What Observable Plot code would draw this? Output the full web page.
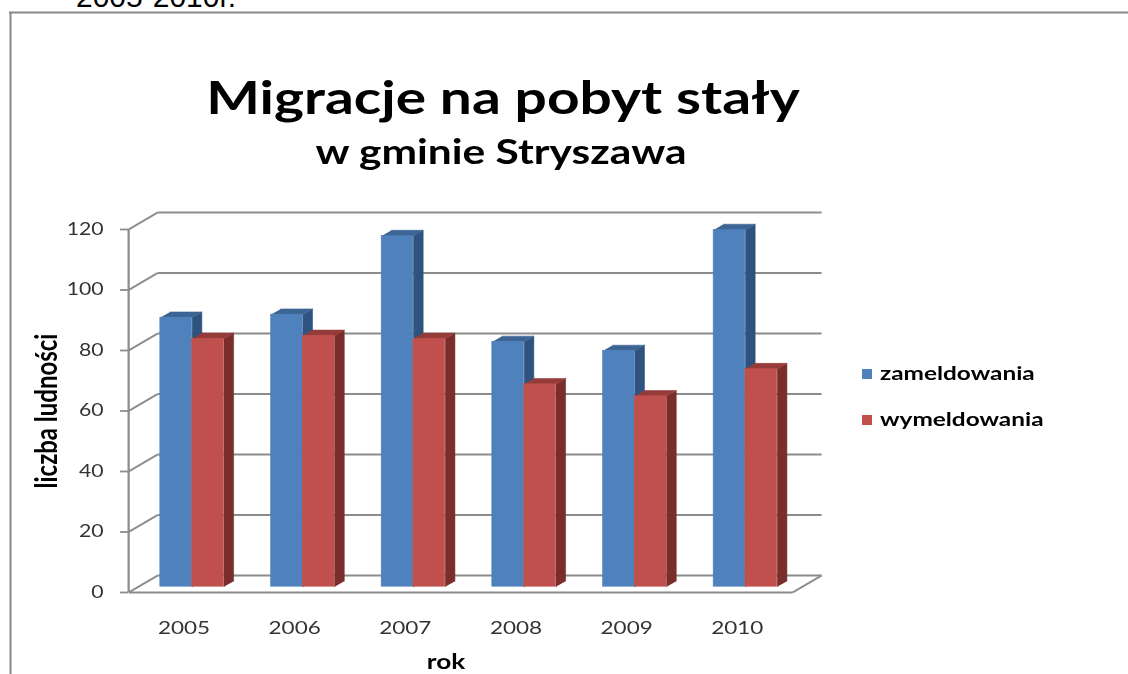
<!DOCTYPE html>
<html><head><meta charset="utf-8">
<script src="https://cdn.jsdelivr.net/npm/d3@7"></script>
<script src="https://cdn.jsdelivr.net/npm/@observablehq/plot@0.6"></script>
<style>
html,body{margin:0;background:#fff;width:1128px;height:674px;overflow:hidden}
#page{position:relative;width:1128px;height:674px;overflow:hidden}
#doc{position:absolute;left:0;top:0}
#wrap{position:absolute;left:0;top:0;width:902.4px;height:674px;transform:scaleX(1.25);transform-origin:0 0}
#wrap svg{position:absolute;left:0;top:0}
</style></head>
<body><div id="page"><svg id="doc" width="1128" height="674"></svg><div id="wrap"></div></div>
<script>
// ---- data ----
const years = [2005, 2006, 2007, 2008, 2009, 2010];
const zameldowania = [89, 90, 116, 81, 78, 118];
const wymeldowania = [82, 83, 82, 67, 63, 72];
const yTicks = [0, 20, 40, 60, 80, 100, 120];
const seriesNames = ["zameldowania", "wymeldowania"];
const titleText = "Migracje na pobyt stały";
const subtitleText = "w gminie Stryszawa";
const yLabel = "liczba ludności";
const xLabel = "rok";
const docText = "2005-2010r.";

// ---- styling / geometry constants ----
const K = 1.25;             // horizontal stretch of the whole chart
const W = 1128 / K, H = 674;
const DX = 0.262, DY = 5.62; // 3D depth in data units
const barStart = 0.20, barW = 0.287;
const colors = {
  front: ["#4F81BD", "#C0504D"],
  top: ["#3C6596", "#953C3A"],
  side: ["#30527E", "#7A2E2C"]
};
const gridColor = "#8c8c8c";

function faces(values, s) {
  const fronts = [], sides = [], tops = [];
  const ddx = DX / 3, ddy = DY / 3;
  values.forEach((v, i) => {
    const x1 = i + barStart + s * barW + ddx, x2 = x1 + barW;
    const y0 = ddy, y1 = v + ddy;
    fronts.push({x1, x2, y1: y0, y2: y1});
    sides.push({id: i, x: x2, y: y0}, {id: i, x: x2, y: y1}, {id: i, x: x2 + ddx, y: y1 + ddy}, {id: i, x: x2 + ddx, y: y0 + ddy});
    tops.push({id: i, x: x1, y: y1}, {id: i, x: x2, y: y1}, {id: i, x: x2 + ddx, y: y1 + ddy}, {id: i, x: x1 + ddx, y: y1 + ddy});
  });
  return {fronts, sides, tops};
}

const grid = yTicks.map(t => ({x1: DX, y1: t + DY, x2: years.length + DX, y2: t + DY}));
const conn = yTicks.map(t => ({x1: 0, y1: t, x2: DX, y2: t + DY}));
const floorFront = [
  {x1: 0, y1: 0, x2: years.length, y2: 0},
  {x1: years.length, y1: 0, x2: years.length + DX, y2: DY}
];

const barMarks = [];
[zameldowania, wymeldowania].forEach((vals, s) => {
  const f = faces(vals, s);
  barMarks.push(
    Plot.line(f.sides, {x: "x", y: "y", z: "id", fill: colors.side[s], stroke: colors.side[s], strokeWidth: 0.5, curve: "linear"}),
    Plot.line(f.tops, {x: "x", y: "y", z: "id", fill: colors.top[s], stroke: colors.top[s], strokeWidth: 0.5, curve: "linear"}),
    Plot.rect(f.fronts, {x1: "x1", x2: "x2", y1: "y1", y2: "y2", fill: colors.front[s], stroke: colors.front[s], strokeWidth: 0.4})
  );
});

const xRight = 792 / K;
const chart = Plot.plot({
  width: W, height: H,
  marginLeft: 128 / K, marginRight: W - xRight,
  marginTop: 229, marginBottom: H - 592,
  x: {domain: [0, years.length], axis: null},
  y: {domain: [0, 120], axis: null},
  style: {background: "transparent", fontFamily: "Lato", overflow: "visible"},
  marks: [
    Plot.link(grid, {x1: "x1", y1: "y1", x2: "x2", y2: "y2", stroke: gridColor, strokeWidth: 1.8}),
    Plot.link(conn, {x1: "x1", y1: "y1", x2: "x2", y2: "y2", stroke: gridColor, strokeWidth: 1.8}),
    Plot.link(floorFront, {x1: "x1", y1: "y1", x2: "x2", y2: "y2", stroke: gridColor, strokeWidth: 1.8}),
    Plot.ruleX([0], {y1: 0, y2: 120, stroke: gridColor, strokeWidth: 1.8}),
    Plot.ruleY(yTicks, {x1: -8 / 110.67, x2: 0, stroke: gridColor, strokeWidth: 1.8}),
    Plot.text(yTicks, {x: 0, y: d => d, text: d => String(d), dx: -20, textAnchor: "end", fontSize: 17, fill: "#333"}),
    Plot.text(years, {x: (d, i) => i + 0.5, y: 0, text: d => String(d), dy: 36, fontSize: 18, fill: "#333"}),
    ...barMarks
  ]
});
document.getElementById("wrap").appendChild(chart);

// overlay for titles, legend and axis titles
const ov = d3.select("#wrap").append("svg").attr("width", W).attr("height", H)
  .style("font-family", "Lato").style("overflow", "visible");
ov.append("text").attr("x", 503 / K).attr("y", 114).attr("text-anchor", "middle")
  .attr("font-weight", "bold").attr("font-size", 45.5).text(titleText);
ov.append("text").attr("x", 501 / K).attr("y", 164).attr("text-anchor", "middle")
  .attr("font-weight", "bold").attr("font-size", 34).text(subtitleText);
seriesNames.forEach((name, s) => {
  const cy = 374 + s * 46;
  ov.append("rect").attr("x", 862 / K).attr("y", cy - 5).attr("width", 10 / K).attr("height", 10).attr("fill", colors.front[s]);
  ov.append("text").attr("x", 880 / K).attr("y", cy + 6).attr("font-weight", "bold").attr("font-size", 19.5).text(name);
});
ov.append("text").attr("transform", `translate(${45 / K},411) rotate(-90)`).attr("text-anchor", "middle")
  .attr("dominant-baseline", "central").attr("font-weight", "bold").attr("font-size", 24).text(yLabel);
ov.append("text").attr("x", 446 / K).attr("y", 669).attr("text-anchor", "middle")
  .attr("font-weight", "bold").attr("font-size", 21).text(xLabel);

// document frame
const doc = d3.select("#doc");
doc.append("line").attr("x1", 9).attr("y1", 12.5).attr("x2", 1128).attr("y2", 12.5).attr("stroke", "#888").attr("stroke-width", 2);
doc.append("line").attr("x1", 10.5).attr("y1", 12).attr("x2", 10.5).attr("y2", 674).attr("stroke", "#888").attr("stroke-width", 2);
doc.append("text").attr("x", 76).attr("y", 7).attr("font-family", "Liberation Sans").attr("font-size", 30).text(docText);
</script></body></html>
